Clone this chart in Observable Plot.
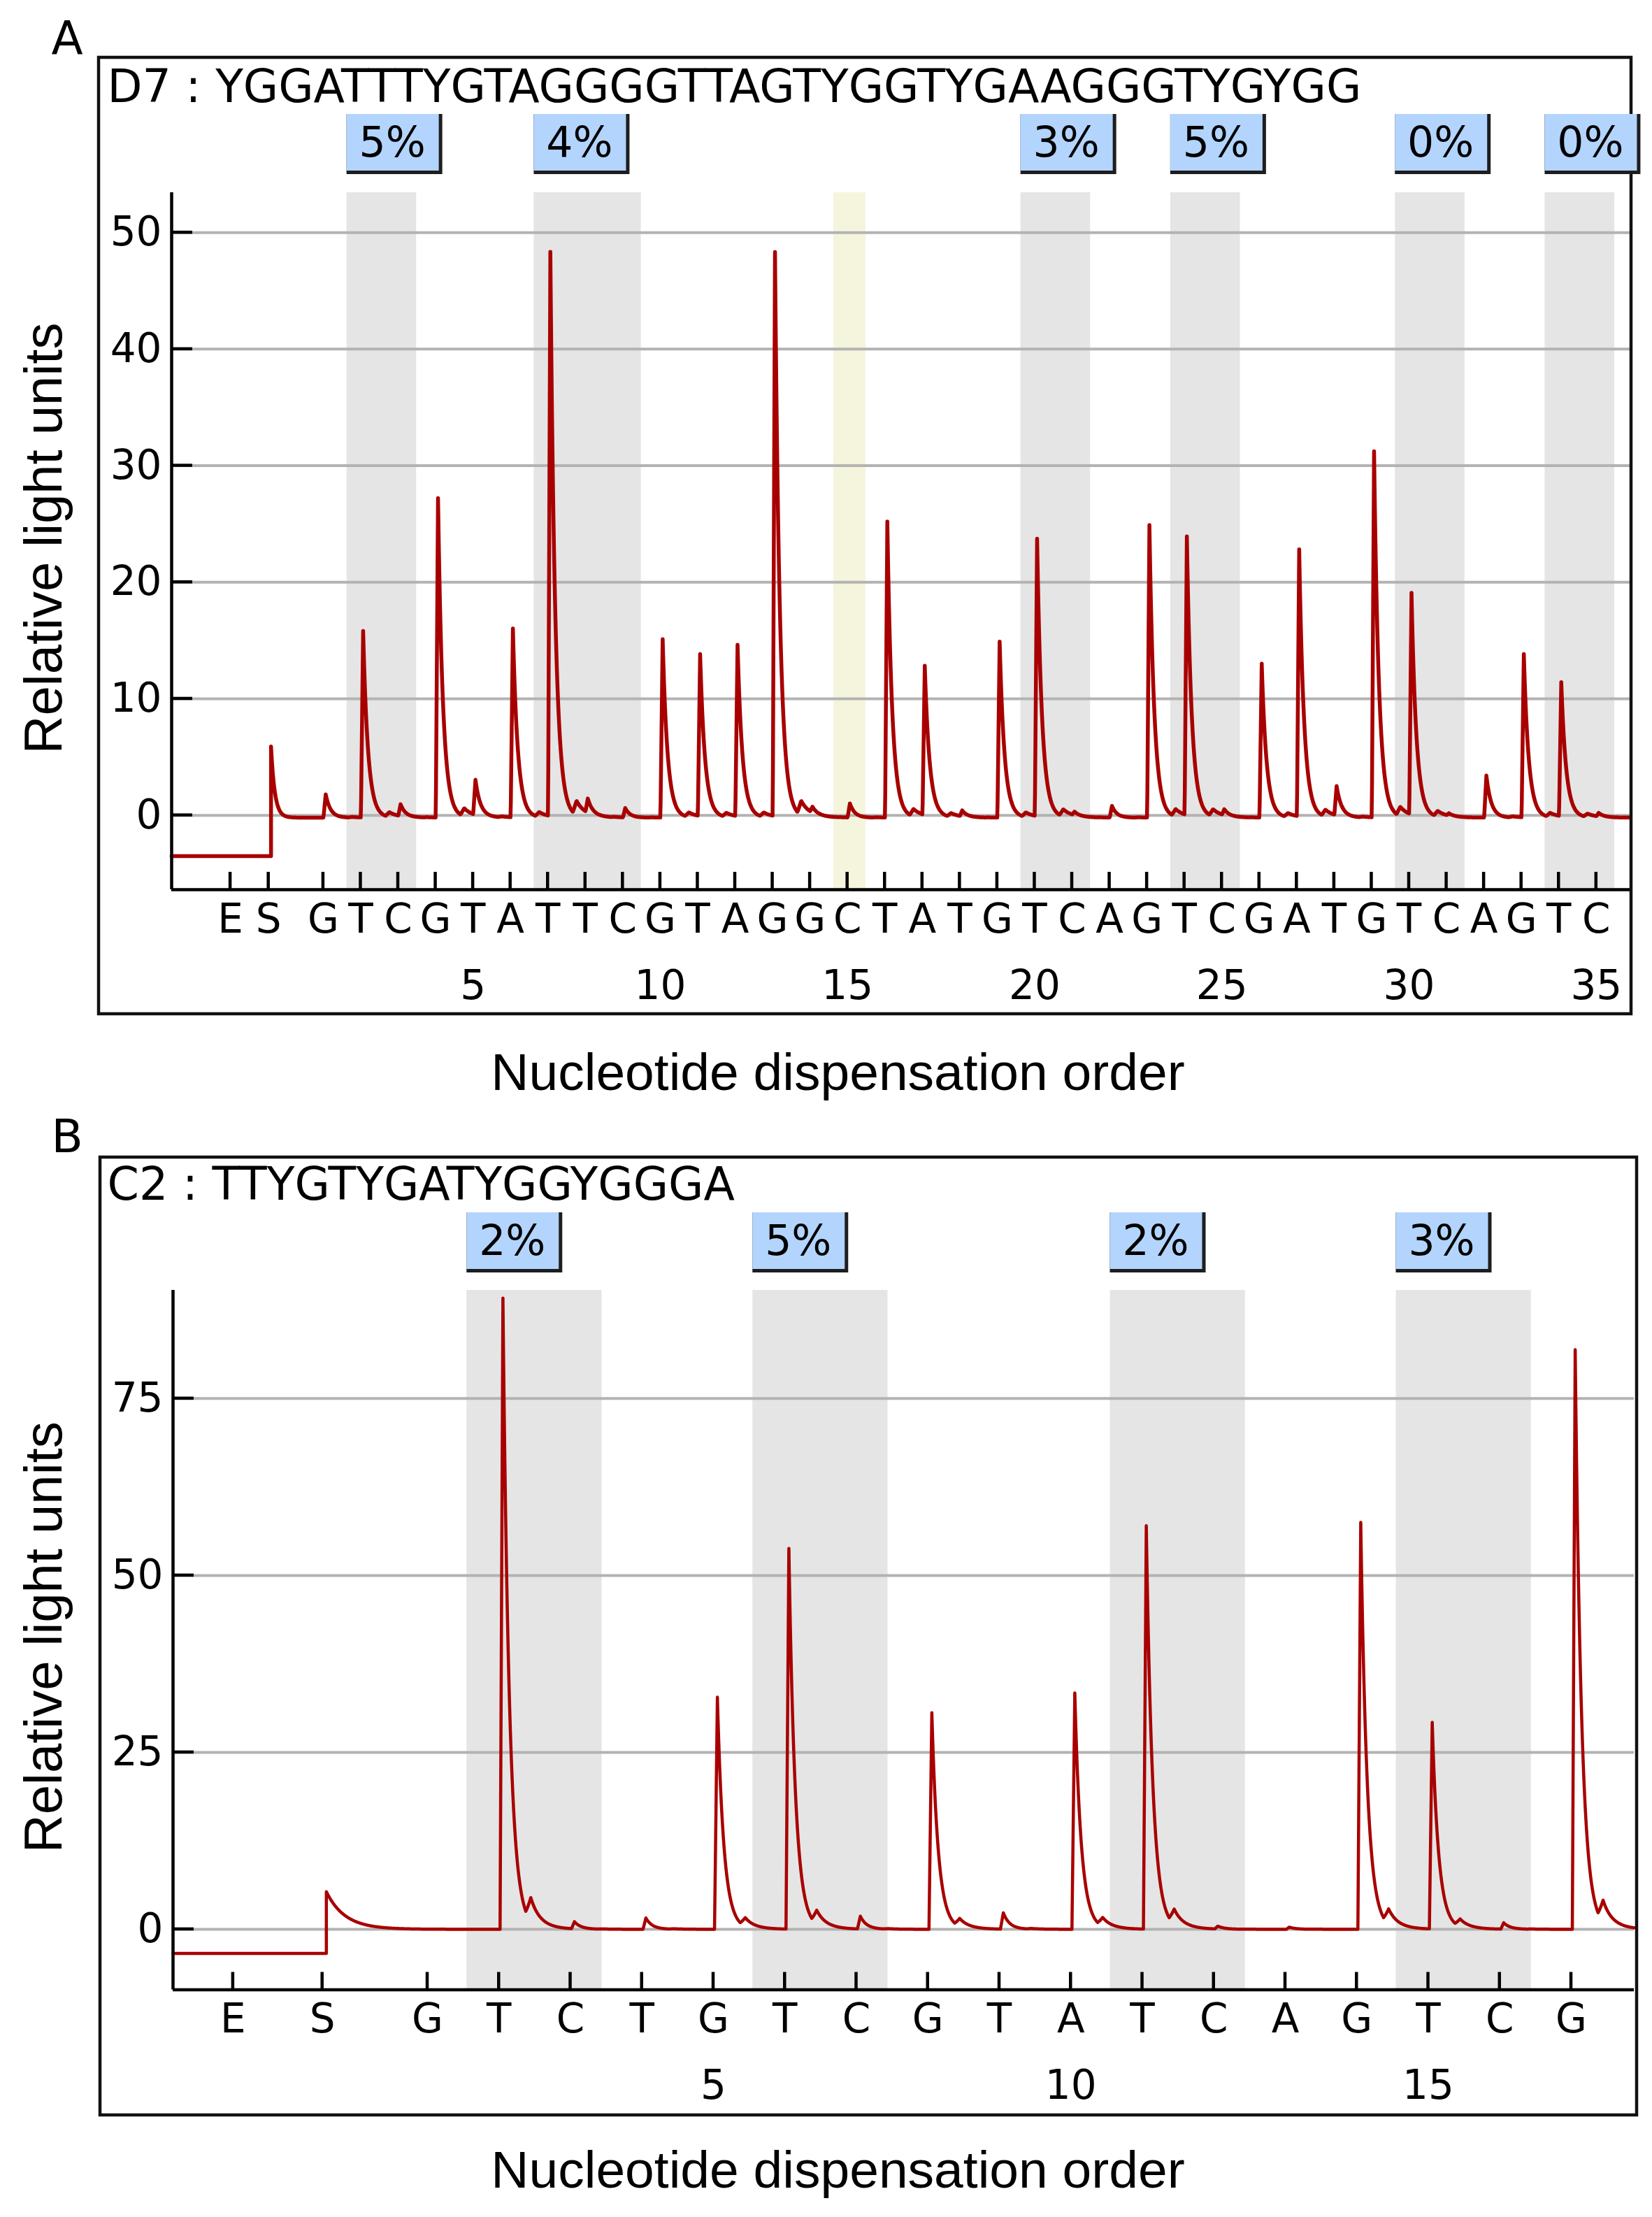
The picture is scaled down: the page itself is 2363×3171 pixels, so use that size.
<!DOCTYPE html>
<html>
<head>
<meta charset="utf-8">
<script src="https://cdn.jsdelivr.net/npm/d3@7"></script>
<script src="https://cdn.jsdelivr.net/npm/@observablehq/plot@0.6"></script>
<style>
  html, body { margin: 0; padding: 0; background: #fff; overflow: hidden; }
  #fig { width: 2363px; height: 3171px; background: #fff; }
  #fig svg { display: block; overflow: visible; max-width: none; }
</style>
</head>
<body>
<div id="fig"></div>
<script>
// ---------- Panel A: assay D7 ----------
const dispA = ["G","T","C","G","T","A","T","T","C","G","T","A","G","G","C","T","A","T",
               "G","T","C","A","G","T","C","G","A","T","G","T","C","A","G","T","C"];
// peak height (relative light units) for each dispensation of panel A
const peaksA = [2.0, 16.0, 1.0, 27.4, 3.0, 16.2, 48.4, 1.2, 0.8, 15.3, 13.9, 14.7, 48.4, 0.5,
                1.2, 25.4, 12.8, 0.5, 15.1, 23.8, 0.3, 1.0, 25.1, 23.9, 0.5, 13.2, 22.9, 2.5,
                31.4, 19.0, 0.2, 3.6, 14.0, 11.5, 0.3];
// enzyme / substrate controls (dispensation axis position)
const controlsA = [{label: "E", pos: -1.48}, {label: "S", pos: -0.46}];
const substrateA = {peak: 6.1, before: -3.5, after: -0.2};
// CpG sites with methylation level
const regionsA = [
  {from: 2, to: 3, pct: "5%"},
  {from: 7, to: 9, pct: "4%"},
  {from: 20, to: 21, pct: "3%"},
  {from: 24, to: 25, pct: "5%"},
  {from: 30, to: 31, pct: "0%"},
  {from: 34, to: 35, pct: "0%"}
];
const controlSiteA = [{from: 15, to: 15}]; // bisulfite conversion control
const yTicksA = [0, 10, 20, 30, 40, 50];
const numTicksA = [5, 10, 15, 20, 25, 30, 35];

// ---------- Panel B: assay C2 ----------
const dispB = ["G","T","C","T","G","T","C","G","T","A","T","C","A","G","T","C","G"];
const peaksB = [0, 89.2, 1.0, 1.6, 32.8, 53.8, 1.8, 30.6, 2.3, 33.4, 57.0, 0.4, 0.3, 57.5, 29.2, 0.9, 81.9];
const controlsB = [{label: "E", pos: -1.72}, {label: "S", pos: -0.47}];
const substrateB = {peak: 5.3, before: -3.4, after: 0};
const regionsB = [
  {from: 2, to: 3, pct: "2%"},
  {from: 6, to: 7, pct: "5%"},
  {from: 11, to: 12, pct: "2%"},
  {from: 15, to: 16, pct: "3%"}
];
const yTicksB = [0, 25, 50, 75];
const numTicksB = [5, 10, 15];

// ---------- styling ----------
const SANS = "'DejaVu Sans', Verdana, sans-serif";
const ARIAL = "'Liberation Sans', Arial, sans-serif";
const TRACE = "#a80000";

// Pyrogram peak response: fast rise, exponential decay, small late shoulder.
function pulse(t, s) {
  if (t < -s.rise) return 0;
  if (t < 0) return 1 + t / s.rise;
  let v = Math.exp(-t / s.tau);
  const u = t - s.ds;
  if (u >= -s.r2) v += s.sh * (u < 0 ? 1 + u / s.r2 : Math.exp(-u / s.tau2));
  return v;
}

function buildTrace(p) {
  const s = p.shape;
  const S = p.controls[1].pos + s.off;
  const tops = p.peaks.map((h, i) => i + 1 + s.off);
  const xs = d3.range(p.xDomain[0], p.xDomain[1], s.step)
    .concat(tops, [S - 1e-4, S, p.xDomain[1]])
    .sort(d3.ascending);
  return xs.map(x => {
    let y = x < S ? p.substrate.before : p.substrate.after;
    if (x >= S) y += p.substrate.peak * Math.exp(-(x - S) / s.tauS);
    for (let i = 0; i < p.peaks.length; i++) y += p.peaks[i] * pulse(x - tops[i], s);
    return {x, y};
  });
}

function buildPanel(p) {
  const m = p.margin;
  const [xmin] = p.xDomain;
  const [ymin] = p.yDomain;
  const trace = buildTrace(p);
  const labels = [
    ...p.controls.map(c => ({pos: c.pos, base: c.label})),
    ...p.disp.map((b, i) => ({pos: i + 1, base: b}))
  ];
  const tickPos = labels.map(d => d.pos);
  const bx1 = d => d.from - p.pad[0];
  const bx2 = d => d.to + p.pad[1];

  // frame box, percentage badges and inward axis ticks
  const decor = (index, scales, values, dims) => {
    const top = dims.marginTop;
    const bottom = dims.height - dims.marginBottom;
    const left = dims.marginLeft;
    const g = d3.create("svg:g");
    g.append("rect")
      .attr("x", p.box[0]).attr("y", top + p.boxY[0])
      .attr("width", p.box[1] - p.box[0])
      .attr("height", (bottom + p.boxY[1]) - (top + p.boxY[0]))
      .attr("fill", "none").attr("stroke", "#111").attr("stroke-width", 4.5);
    for (const r of p.regions) {
      const x = scales.x(bx1(r)), y = top + p.pctTop;
      g.append("rect").attr("x", x).attr("y", y).attr("width", 137).attr("height", 86).attr("fill", "#1e1e1e");
      g.append("rect").attr("x", x).attr("y", y).attr("width", 132).attr("height", 81).attr("fill", "#b3d4fc");
    }
    const t = g.append("g").attr("stroke", "#000").attr("stroke-width", 4.5);
    for (const v of tickPos) {
      const x = scales.x(v);
      t.append("line").attr("x1", x).attr("x2", x).attr("y1", bottom).attr("y2", bottom - 25);
    }
    for (const v of p.yTicks) {
      const y = scales.y(v);
      t.append("line").attr("x1", left).attr("x2", left + 30).attr("y1", y).attr("y2", y);
    }
    return g.node();
  };

  return Plot.plot({
    width: 2363,
    height: p.height,
    marginTop: m.top, marginRight: m.right, marginBottom: m.bottom, marginLeft: m.left,
    x: {domain: p.xDomain, axis: null},
    y: {domain: p.yDomain, axis: null},
    style: {background: "transparent", color: "#000", overflow: "visible"},
    marks: [
      Plot.rect(p.regions, {x1: bx1, x2: bx2, fill: "#e5e5e5"}),
      Plot.rect(p.highlight, {x1: bx1, x2: bx2, fill: "#f5f5dd"}),
      Plot.ruleY(p.yTicks, {stroke: "#b3b3b3", strokeWidth: 4}),
      Plot.line(trace, {x: "x", y: "y", stroke: TRACE, strokeWidth: p.lineWidth, strokeLinejoin: "round"}),
      Plot.ruleX([xmin], {stroke: "#000", strokeWidth: 4.5}),
      Plot.ruleY([ymin], {stroke: "#000", strokeWidth: 4.5}),
      decor,
      // y tick labels
      Plot.text(p.yTicks, {x: xmin, y: d => d, text: d => String(d), textAnchor: "end", dx: -14,
        lineAnchor: "middle", fontSize: 58, fontFamily: SANS, fill: "#000"}),
      // dispensation letters and numbering
      Plot.text(labels, {x: "pos", text: "base", frameAnchor: "bottom", dy: 61, lineAnchor: "bottom",
        fontSize: 58, fontFamily: SANS, fill: "#000"}),
      Plot.text(p.numTicks, {x: d => d, text: d => String(d), frameAnchor: "bottom", dy: 156, lineAnchor: "bottom",
        fontSize: 58, fontFamily: SANS, fill: "#000"}),
      // methylation percentages
      Plot.text(p.regions, {x: bx1, text: "pct", frameAnchor: "top", dx: 65, dy: p.pctTop + 60,
        lineAnchor: "bottom", textAnchor: "middle", fontSize: 60, fontFamily: SANS, fill: "#000"}),
      // assay sequence title and panel letter
      Plot.text([p.title], {frameAnchor: "top-left", dx: 153 - m.left, dy: -130, lineAnchor: "bottom",
        textAnchor: "start", fontSize: 65, fontFamily: SANS, fill: "#000"}),
      Plot.text([p.letter], {frameAnchor: "top-left", dx: 73 - m.left, dy: p.letterY, lineAnchor: "bottom",
        textAnchor: "start", fontSize: 66, fontFamily: SANS, fill: "#000"}),
      // axis titles
      Plot.text(["Nucleotide dispensation order"], {frameAnchor: "bottom-left", dx: 1198 - m.left, dy: p.xTitleY,
        lineAnchor: "bottom", textAnchor: "middle", fontSize: 75, fontFamily: ARIAL, fill: "#000"}),
      Plot.text(["Relative light units"], {frameAnchor: "left", dx: 87 - m.left, dy: -4, rotate: -90,
        lineAnchor: "bottom", textAnchor: "middle", fontSize: 76, fontFamily: ARIAL, fill: "#000"})
    ]
  });
}

const panelA = {
  letter: "A",
  title: "D7 : YGGATTTYGTAGGGGTTAGTYGGTYGAAGGGTYGYGG",
  disp: dispA, peaks: peaksA, controls: controlsA, substrate: substrateA,
  regions: regionsA, highlight: controlSiteA, pad: [0.37, 0.49],
  yTicks: yTicksA, numTicks: numTicksA,
  xDomain: [-3.05, 35.9], yDomain: [-6.38, 53.43],
  height: 1590, margin: {top: 275, right: 32, bottom: 318, left: 245},
  box: [141, 2333], boxY: [-193, 178], pctTop: -112, letterY: -199, xTitleY: 286,
  lineWidth: 5.5,
  shape: {off: 0.065, rise: 0.06, tau: 0.13, sh: 0.025, ds: 0.7, r2: 0.1, tau2: 0.28, tauS: 0.1, step: 0.01}
};

const panelB = {
  letter: "B",
  title: "C2 : TTYGTYGATYGGYGGGA",
  disp: dispB, peaks: peaksB, controls: controlsB, substrate: substrateB,
  regions: regionsB, highlight: [], pad: [0.45, 0.44],
  yTicks: yTicksB, numTicks: numTicksB,
  xDomain: [-2.56, 17.88], yDomain: [-8.55, 90.3],
  height: 1581, margin: {top: 255, right: 26, bottom: 325.5, left: 247},
  box: [143, 2341], boxY: [-190, 179.5], pctTop: -111, letterY: -198, xTitleY: 283,
  lineWidth: 4.5,
  shape: {off: 0.055, rise: 0.04, tau: 0.09, sh: 0.037, ds: 0.39, r2: 0.07, tau2: 0.16, tauS: 0.26, step: 0.005}
};

const fig = document.getElementById("fig");
fig.append(buildPanel(panelA));
fig.append(buildPanel(panelB));
</script>
</body>
</html>
